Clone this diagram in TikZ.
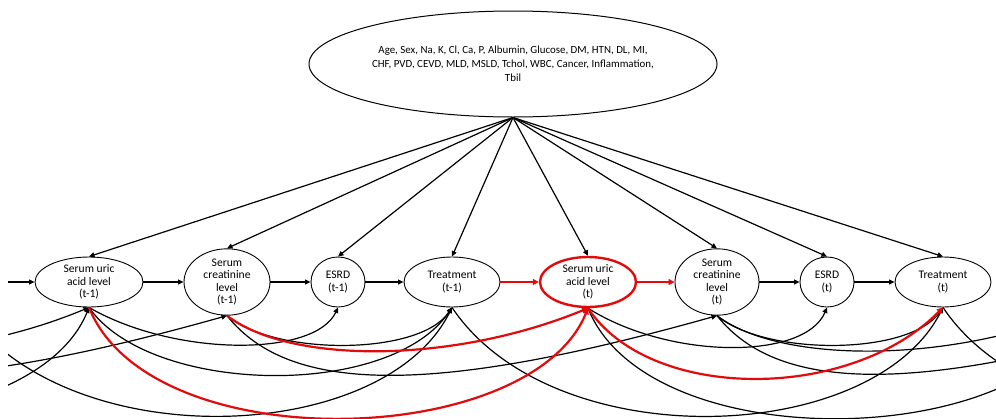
\documentclass[tikz,border=0pt]{standalone}
\usepackage{fontspec}
\setmainfont{Carlito}
\usetikzlibrary{arrows.meta,shapes.geometric}
\definecolor{pathred}{RGB}{226,10,10}
\begin{document}
\begin{tikzpicture}[x=1pt,y=-1pt,
  var/.style={draw=black,line width=0.9pt,ellipse,inner sep=0pt,minimum height=50pt,align=center,font=\fontsize{11.6}{12.6}\selectfont},
  redvar/.style={var,draw=pathred,line width=2.4pt},
  arr/.style={line width=1.2pt,-{Triangle[length=5.5pt,width=5pt]}},
  redarr/.style={line width=2.2pt,draw=pathred,-{Triangle[length=6pt,width=6pt]}},
]
\useasboundingbox (0,0) rectangle (996,418);
% top confounder ellipse
\node[draw=black,line width=1pt,ellipse,inner sep=0pt,minimum width=408pt,minimum height=106pt,align=center,
  font=\fontsize{10.9}{13.8}\selectfont] (top) at (513,64)
  {Age, Sex, Na, K, Cl, Ca, P, Albumin, Glucose, DM, HTN, DL, MI,\\CHF, PVD, CEVD, MLD, MSLD, Tchol, WBC, Cancer, Inflammation,\\Tbil};
% time-slice nodes
\node[var,minimum width=108pt] (U1) at (89,282) {Serum uric\\acid level\\(t-1)};
\node[var,minimum width=86pt] (C1) at (227,282) {Serum\\creatinine\\level\\(t-1)};
\node[var,minimum width=54pt] (E1) at (338,282) {ESRD\\(t-1)};
\node[var,minimum width=96pt] (T1) at (452,282) {Treatment\\(t-1)};
\node[redvar,minimum width=96pt] (U2) at (588,282) {Serum uric\\acid level\\(t)};
\node[var,minimum width=84pt] (C2) at (717,282) {Serum\\creatinine\\level\\(t)};
\node[var,minimum width=54pt] (E2) at (827,282) {ESRD\\(t)};
\node[var,minimum width=96pt] (T2) at (943,282) {Treatment\\(t)};
% off-picture anchors
\coordinate (inL) at (8,282);
\coordinate (U0) at (-410,307);
\coordinate (C0) at (-263,307);
\coordinate (T0) at (-37,307);
\coordinate (U3) at (1087,307);
\coordinate (C3) at (1207,307);
\coordinate (T3) at (1432,307);
% arrows from confounders
\foreach \n in {U1,C1,E1,T1,U2,C2,E2,T2}
  \draw[arr] (top.south) -- (\n.north);
% horizontal arrows
\draw[arr] (inL) -- (U1.west);
\draw[arr] (U1.east) -- (C1.west);
\draw[arr] (C1.east) -- (E1.west);
\draw[arr] (E1.east) -- (T1.west);
\draw[redarr] (T1.east) -- (U2.west);
\draw[redarr] (U2.east) -- (C2.west);
\draw[arr] (C2.east) -- (E2.west);
\draw[arr] (E2.east) -- (T2.west);
% curved arrows
\begin{scope}
\clip (8,0) rectangle (996,418);
% from previous slice
\draw[arr] (U0) .. controls (-349,460) and (31,450) .. (U1.south);
\draw[arr] (C0) .. controls (-200,364) and (-47,364) .. (U1.south);
\draw[arr] (C0) .. controls (-200,395) and (-55,395) .. (C1.south);
\draw[arr] (T0) .. controls (63,457) and (383,447) .. (T1.south);
% slice t-1
\draw[arr] (U1.south) .. controls (175,357) and (315,357) .. (E1.south);
\draw[arr] (U1.south) .. controls (150,395) and (390,400) .. (T1.south);
\draw[arr] (C1.south) .. controls (275,356) and (420,356) .. (T1.south);
\draw[arr] (C1.south) .. controls (290,395) and (435,395) .. (C2.south);
\draw[arr] (T1.south) .. controls (552,457) and (872,447) .. (T2.south);
% slice t
\draw[arr] (U2.south) .. controls (670,360) and (805,360) .. (E2.south);
\draw[arr] (U2.south) .. controls (649,460) and (1029,450) .. (U3);
\draw[arr] (C2.south) .. controls (765,356) and (910,356) .. (T2.south);
\draw[arr] (C2.south) .. controls (780,364) and (951,364) .. (U3);
\draw[arr] (C2.south) .. controls (780,395) and (925,395) .. (C3);
\draw[arr] (T2.south) .. controls (1043,457) and (1363,447) .. (T3);
% red path
\draw[redarr] (U1.south) .. controls (150,460) and (530,450) .. (U2.south);
\draw[redarr] (C1.south) .. controls (290,364) and (452,364) .. (U2.south);
\draw[redarr] (U2.south) .. controls (650,402) and (850,402) .. (T2.south);
\end{scope}
\end{tikzpicture}
\end{document}
